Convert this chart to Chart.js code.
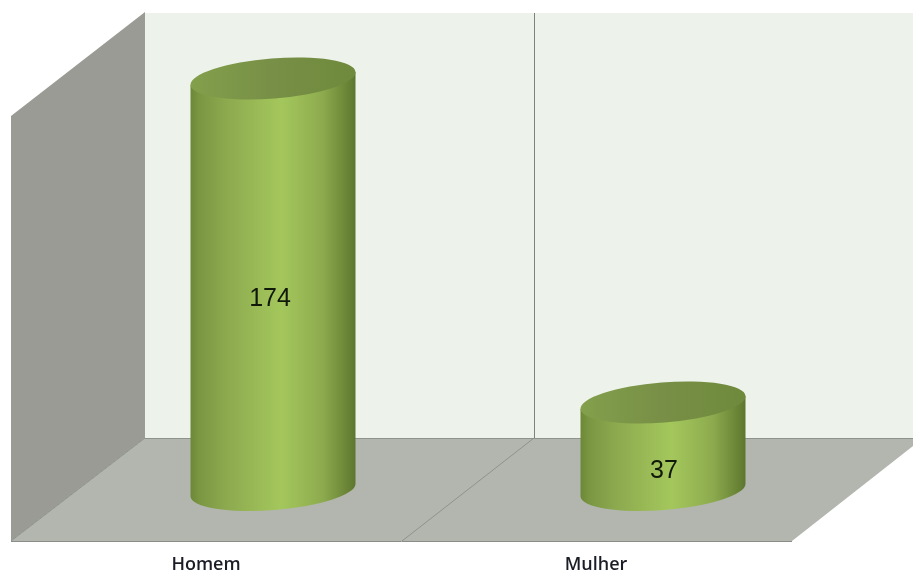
<!DOCTYPE html>
<html>
<head>
<meta charset="utf-8">
<style>html,body{margin:0;padding:0;background:#fff}canvas{display:block}</style>
<script src="https://cdn.jsdelivr.net/npm/chart.js@4"></script>
</head>
<body>
<canvas id="c" width="913" height="574"></canvas>
<script>
const categories = ['Homem', 'Mulher'];
const counts = [174, 37];

const TILT = -0.08, MINOR = 20;

function bodyGradient(ctx, x, w) {
  const g = ctx.createLinearGradient(x - w / 2, 0, x + w / 2, 0);
  g.addColorStop(0, '#6c8838');
  g.addColorStop(0.05, '#7a9642');
  g.addColorStop(0.2, '#8ba84e');
  g.addColorStop(0.55, '#a4c75c');
  g.addColorStop(0.8, '#8dab4e');
  g.addColorStop(0.95, '#6a8436');
  g.addColorStop(1, '#5d7630');
  return g;
}

Chart.BarElement.prototype.draw = function (ctx) {
  const { x, y, base, width } = this;
  const a = (width / 2) / Math.cos(TILT);
  const dy = a * Math.sin(-TILT);
  ctx.save();
  ctx.fillStyle = bodyGradient(ctx, x, width);
  ctx.beginPath();
  ctx.moveTo(x + width / 2, y - dy);
  ctx.lineTo(x - width / 2, y + dy);
  ctx.lineTo(x - width / 2, base + dy);
  ctx.ellipse(x, base, a, MINOR, TILT, Math.PI, 0, true);
  ctx.closePath();
  ctx.fill();
  const top = ctx.createLinearGradient(x - width / 2, 0, x + width / 2, 0);
  top.addColorStop(0, '#83a04c');
  top.addColorStop(0.5, '#778f46');
  top.addColorStop(1, '#6f8a3c');
  ctx.fillStyle = top;
  ctx.beginPath();
  ctx.ellipse(x, y, a, MINOR, TILT, 0, Math.PI * 2);
  ctx.fill();
  ctx.restore();
};

const walls = {
  id: 'walls',
  beforeDraw(chart) {
    const c = chart.ctx;
    const poly = (pts, fill) => {
      c.fillStyle = fill;
      c.beginPath();
      pts.forEach((p, i) => i ? c.lineTo(p[0], p[1]) : c.moveTo(p[0], p[1]));
      c.closePath();
      c.fill();
    };
    const line = (x1, y1, x2, y2, col) => {
      c.strokeStyle = col; c.lineWidth = 1;
      c.beginPath(); c.moveTo(x1, y1); c.lineTo(x2, y2); c.stroke();
    };
    c.save();
    c.fillStyle = '#fff';
    c.fillRect(0, 0, 913, 574);
    poly([[145, 13], [913, 13], [913, 438], [145, 438]], '#edf2ea');
    poly([[11, 116], [145, 12], [145, 438], [11, 541]], '#9a9b95');
    poly([[11, 541], [145, 438], [913, 438], [913, 446], [792, 541]], '#b2b6af');
    line(145, 438.5, 913, 438.5, '#8f938e');
    line(534.5, 13, 534.5, 438, '#7f837e');
    line(534, 438, 402, 541, '#8f938e');
    line(11, 541, 145, 438, '#8f938e');
    line(11, 541.5, 792, 541.5, '#8a8d88');
    c.restore();
  }
};

const valueLabels = {
  id: 'valueLabels',
  afterDatasetsDraw(chart) {
    const c = chart.ctx;
    const meta = chart.getDatasetMeta(0);
    c.save();
    c.fillStyle = '#10180a';
    c.font = '25px "Liberation Sans"';
    c.textAlign = 'center';
    c.textBaseline = 'middle';
    meta.data.forEach((el, i) => {
      c.fillText(String(counts[i]), el.x - (i === 0 ? 3 : -1), 0.532 * el.y + 257);
    });
    c.restore();
  }
};

new Chart(document.getElementById('c'), {
  type: 'bar',
  data: {
    labels: categories,
    datasets: [{
      data: counts,
      backgroundColor: '#a4c75c',
      barPercentage: 165 / 390,
      categoryPercentage: 1,
      clip: false
    }]
  },
  options: {
    responsive: false,
    animation: false,
    layout: { padding: { left: 78, right: 55, top: 17, bottom: 0 } },
    plugins: { legend: { display: false }, tooltip: { enabled: false } },
    scales: {
      y: { display: false, min: 0, max: 200 },
      x: {
        afterFit(s) { s.height = 84; },
        grid: { display: false },
        border: { display: false },
        ticks: {
          color: '#1b1d26',
          font: { family: '"Open Sans"', size: 18, weight: '600' },
          padding: 56,
          labelOffset: -67,
          maxRotation: 0,
          autoSkip: false
        }
      }
    }
  },
  plugins: [walls, valueLabels]
});
</script>
</body>
</html>
